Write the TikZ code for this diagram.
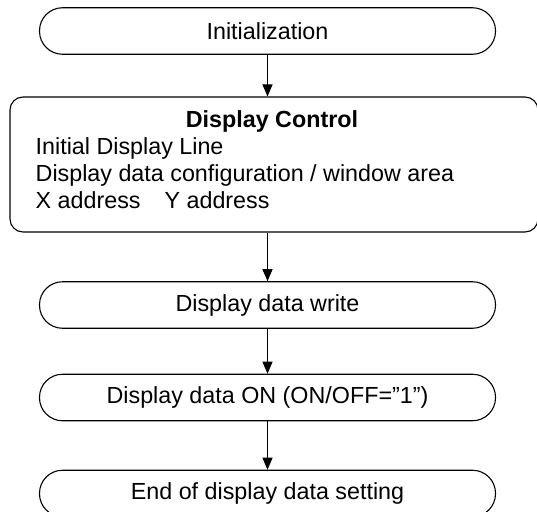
\documentclass[tikz,border=0pt]{standalone}
\usepackage{fontspec}
\setmainfont{Liberation Sans}
\usetikzlibrary{arrows.meta}
\tikzset{
 stadium/.style={draw,line width=1.1pt,rounded corners=23pt,minimum width=456pt,minimum height=46.5pt,inner sep=0pt},
 ctrlbox/.style={draw,line width=1.1pt,rounded corners=13pt,minimum width=528pt,minimum height=135pt,inner sep=0pt},
 flow/.style={line width=1pt,-{Triangle[length=12pt,width=10pt]}}
}
\begin{document}
\begin{tikzpicture}[x=1pt,y=-1pt,font=\fontsize{23.3}{27}\selectfont]
 \useasboundingbox (0,0) rectangle (537,511);
 \clip (0,0) rectangle (537,511);
 \node[stadium] (init) at (267.5,31) {Initialization};
 \node[ctrlbox] (ctrl) at (274,164.5) {};
 \node[anchor=base,font=\fontsize{23.3}{27}\selectfont\bfseries] (title) at (272,127) {Display Control};
 \node[anchor=base west,inner sep=0pt] (line1) at (35.5,154) {Initial Display Line};
 \node[anchor=base west,inner sep=0pt] (line2) at (35.5,181) {Display data configuration / window area};
 \node[anchor=base west,inner sep=0pt] (line3) at (35.5,208) {X address\hspace*{24pt}Y address};
 \node[stadium] (write) at (267.5,305) {Display data write};
 \node[stadium] (on) at (267.5,397.5) {Display data ON (ON/OFF=”1\symbol{34})};
 \node[stadium] (end) at (267.5,493.5) {End of display data setting};
 \draw[flow] (init) -- (init |- ctrl.north);
 \draw[flow] (ctrl.south -| init) -- (write);
 \draw[flow] (write) -- (on);
 \draw[flow] (on) -- (end);
\end{tikzpicture}
\end{document}
